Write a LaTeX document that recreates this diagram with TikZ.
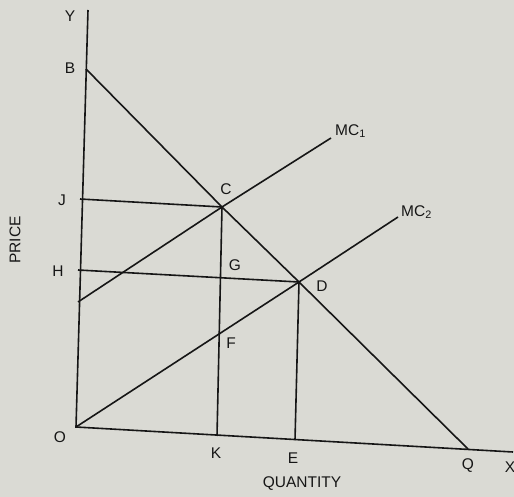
\documentclass[tikz,border=0pt]{standalone}
\usepackage{fontspec}
\setmainfont{Liberation Sans}
\definecolor{paper}{HTML}{DADAD4}
\definecolor{ink}{HTML}{161616}
\begin{document}
\begin{tikzpicture}[x=1pt,y=-1pt,
  ln/.style={draw=ink,line width=1.6pt},
  lab/.style={text=ink,font=\fontsize{15.5}{17}\selectfont,inner sep=0pt}]
\fill[paper] (0,0) rectangle (514,497);
\useasboundingbox (0,0) rectangle (514,497);
% points
\coordinate (O) at (76,427);
\coordinate (Yt) at (88,10);
\coordinate (B) at (86,69);
\coordinate (C) at (222,207);
\coordinate (D) at (299,282);
\coordinate (Q) at (468,449);
\coordinate (Xe) at (513,452);
\coordinate (J) at (80,199);
\coordinate (H) at (78,270);
\coordinate (M1s) at (78,302);
\coordinate (M1e) at (331,138);
\coordinate (M2e) at (398,217);
\coordinate (K) at (217,436);
\coordinate (E) at (295,440);
% axes
\draw[ln] (Yt) -- (O) -- (Xe);
% demand / benefit line
\draw[ln] (B) -- (C) -- (D) -- (Q);
% MC curves
\draw[ln] (M1s) -- (C) -- (M1e);
\draw[ln] (O) -- (D) -- (M2e);
% horizontals
\draw[ln] (J) -- (C);
\draw[ln] (H) -- (D);
% verticals
\draw[ln] (C) -- (K);
\draw[ln] (D) -- (E);
% labels
\node[lab] (lY) at (70,16) {Y};
\node[lab] (lB) at (70,68) {B};
\node[lab] (lJ) at (62,200) {J};
\node[lab] (lH) at (58,271) {H};
\node[lab] (lO) at (60,437) {O};
\node[lab] (lK) at (216,453) {K};
\node[lab] (lE) at (293,458) {E};
\node[lab] (lQ) at (468,466) {Q};
\node[lab] (lX) at (510,467) {X};
\node[lab] (lC) at (226,189) {C};
\node[lab] (lG) at (235,265) {G};
\node[lab] (lF) at (231,343) {F};
\node[lab] (lD) at (322,286) {D};
\node[lab,anchor=west] (lM1) at (335,131) {MC\textsubscript{1}};
\node[lab,anchor=west] (lM2) at (401,212) {MC\textsubscript{2}};
\node[lab] (lQty) at (302,484) {QUANTITY};
\node[lab,rotate=90] (lP) at (15,240) {PRICE};
\end{tikzpicture}
\end{document}
